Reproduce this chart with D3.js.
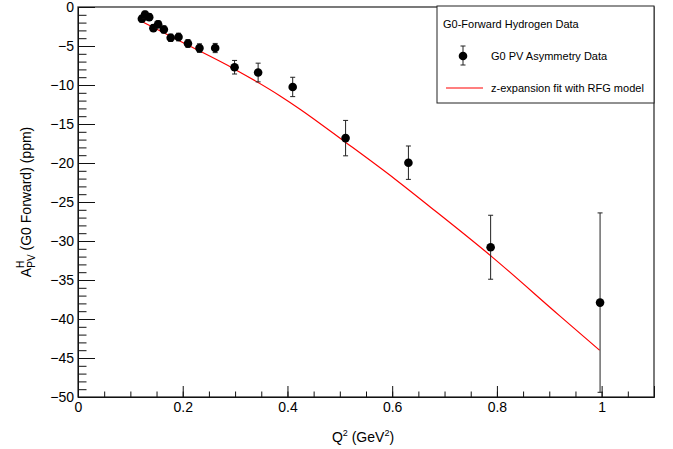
<!DOCTYPE html>
<html>
<head>
<meta charset="utf-8">
<script src="https://cdn.jsdelivr.net/npm/d3@7"></script>
<style>
  body { margin: 0; background: #fff; }
  svg { font-family: "Liberation Sans", Helvetica, Arial, sans-serif; }
</style>
</head>
<body>
<script>
// G0 forward data points
var q2   = [0.122, 0.128, 0.136, 0.144, 0.153, 0.164, 0.177, 0.192, 0.210, 0.232, 0.262, 0.299, 0.344, 0.410, 0.511, 0.631, 0.788, 0.997];
var asym = [-1.51, -0.97, -1.30, -2.71, -2.22, -2.88, -3.95, -3.85, -4.68, -5.27, -5.26, -7.72, -8.40, -10.25, -16.81, -19.96, -30.8, -37.9];
var err  = [0.44, 0.43, 0.43, 0.43, 0.45, 0.46, 0.47, 0.49, 0.50, 0.55, 0.59, 0.87, 1.2, 1.24, 2.27, 2.14, 4.1, 11.5];

// fit curve
var fitQ2 = [0.12, 0.2, 0.3, 0.386, 0.424, 0.51, 0.605, 0.672, 0.79, 0.92, 0.996];
var fitA  = [-1.8, -4.55, -8.0, -11.4, -13.1, -17.3, -22.05, -25.6, -32.0, -39.6, -44.0];

var xMajor = [0, 0.2, 0.4, 0.6, 0.8, 1];
var yMajor = [0, -5, -10, -15, -20, -25, -30, -35, -40, -45, -50];

var width = 673,
    height = 449;

var frameL = 78, frameR = 654, frameT = 7, frameB = 397;

var svg = d3.select("body").append("svg")
    .attr("width", width)
    .attr("height", height);

var x = d3.scaleLinear().domain([0, 1.1]).range([frameL, frameR]);
var y = d3.scaleLinear().domain([-50, 0]).range([frameB, frameT]);

svg.append("clipPath").attr("id", "clip")
  .append("rect")
    .attr("x", frameL).attr("y", frameT)
    .attr("width", frameR - frameL).attr("height", frameB - frameT);

// frame
svg.append("rect")
    .attr("x", frameL).attr("y", frameT)
    .attr("width", frameR - frameL).attr("height", frameB - frameT)
    .style("fill", "none")
    .style("stroke", "#333")
    .style("stroke-width", 1.3);

// x axis: minor + major ticks pointing inward
svg.append("g")
    .attr("transform", "translate(0," + frameB + ")")
    .call(d3.axisBottom(x).tickValues(d3.range(0, 1.101, 0.05)).tickSize(-5.5).tickFormat(""))
    .call(function(g) { g.select(".domain").remove(); });

svg.append("g")
    .attr("class", "xaxis")
    .attr("transform", "translate(0," + frameB + ")")
    .call(d3.axisBottom(x).tickValues(xMajor).tickSize(-11).tickPadding(5).tickFormat(d3.format("")))
    .call(function(g) { g.select(".domain").style("stroke", "#111"); });

// y axis
svg.append("g")
    .attr("transform", "translate(" + frameL + ",0)")
    .call(d3.axisLeft(y).tickValues(d3.range(-50, 0.5, 1)).tickSize(-8.5).tickFormat(""))
    .call(function(g) { g.select(".domain").remove(); });

svg.append("g")
    .attr("class", "yaxis")
    .attr("transform", "translate(" + frameL + ",0)")
    .call(d3.axisLeft(y).tickValues(yMajor).tickSize(-17).tickPadding(4))
    .call(function(g) { g.select(".domain").style("stroke", "#111"); });

svg.selectAll(".tick line").style("stroke", "#111");
svg.selectAll(".tick text")
    .style("font-size", "14px")
    .style("font-family", "'Liberation Sans', Helvetica, Arial, sans-serif")
    .style("fill", "#000");

// axis titles
var xt = svg.append("text")
    .attr("x", 363)
    .attr("y", 442)
    .attr("text-anchor", "middle")
    .style("font-size", "14px");
xt.append("tspan").text("Q");
xt.append("tspan").attr("dy", -6).style("font-size", "9px").text("2");
xt.append("tspan").attr("dy", 6).text(" (GeV");
xt.append("tspan").attr("dy", -6).style("font-size", "9px").text("2");
xt.append("tspan").attr("dy", 6).text(")");

var yt = svg.append("text")
    .attr("transform", "translate(31," + ((frameT + frameB) / 2) + ") rotate(-90)")
    .attr("text-anchor", "middle")
    .style("font-size", "14px");
yt.append("tspan").text("A");
yt.append("tspan").attr("dy", -7).style("font-size", "10px").text("H");
yt.append("tspan").attr("dx", -7).attr("dy", 11).style("font-size", "10px").text("PV");
yt.append("tspan").attr("dy", -4).text(" (G0 Forward) (ppm)");

// fit line
var line = d3.line()
    .curve(d3.curveMonotoneX)
    .x(function(d) { return x(d[0]); })
    .y(function(d) { return y(d[1]); });

svg.append("path")
    .datum(fitQ2.map(function(d, i) { return [d, fitA[i]]; }))
    .attr("clip-path", "url(#clip)")
    .attr("d", line)
    .style("fill", "none")
    .style("stroke", "#f00")
    .style("stroke-width", 1.2);

// data with error bars
var pts = q2.map(function(d, i) { return { q: d, a: asym[i], e: err[i] }; });

var g = svg.append("g").attr("clip-path", "url(#clip)");

var pt = g.selectAll(".pt")
    .data(pts)
  .enter().append("g")
    .attr("class", "pt");

pt.append("line")
    .attr("x1", function(d) { return x(d.q); })
    .attr("x2", function(d) { return x(d.q); })
    .attr("y1", function(d) { return y(d.a + d.e); })
    .attr("y2", function(d) { return y(d.a - d.e); })
    .style("stroke", "#222");

[1, -1].forEach(function(s) {
  pt.append("line")
      .attr("x1", function(d) { return x(d.q) - 2.5; })
      .attr("x2", function(d) { return x(d.q) + 2.5; })
      .attr("y1", function(d) { return y(d.a + s * d.e); })
      .attr("y2", function(d) { return y(d.a + s * d.e); })
      .style("stroke", "#222");
});

pt.append("circle")
    .attr("cx", function(d) { return x(d.q); })
    .attr("cy", function(d) { return y(d.a); })
    .attr("r", 4.3)
    .style("fill", "#000");

// legend
var lg = svg.append("g");
lg.append("rect")
    .attr("x", 437).attr("y", 6)
    .attr("width", frameR - 437).attr("height", 97)
    .style("fill", "#fff")
    .style("stroke", "#222");

lg.append("text").attr("x", 443).attr("y", 28).style("font-size", "11px").text("G0-Forward Hydrogen Data");

lg.append("line").attr("x1", 463).attr("x2", 463).attr("y1", 46).attr("y2", 65).style("stroke", "#222");
lg.append("line").attr("x1", 460.5).attr("x2", 465.5).attr("y1", 46).attr("y2", 46).style("stroke", "#222");
lg.append("line").attr("x1", 460.5).attr("x2", 465.5).attr("y1", 65).attr("y2", 65).style("stroke", "#222");
lg.append("circle").attr("cx", 463).attr("cy", 56).attr("r", 4.3).style("fill", "#000");
lg.append("text").attr("x", 491).attr("y", 60).style("font-size", "11px").text("G0 PV Asymmetry Data");

lg.append("line").attr("x1", 446).attr("x2", 483).attr("y1", 88).attr("y2", 88).style("stroke", "#f00").style("stroke-width", 1.2);
lg.append("text").attr("x", 491).attr("y", 92).style("font-size", "11px").text("z-expansion fit with RFG model");
</script>
</body>
</html>
